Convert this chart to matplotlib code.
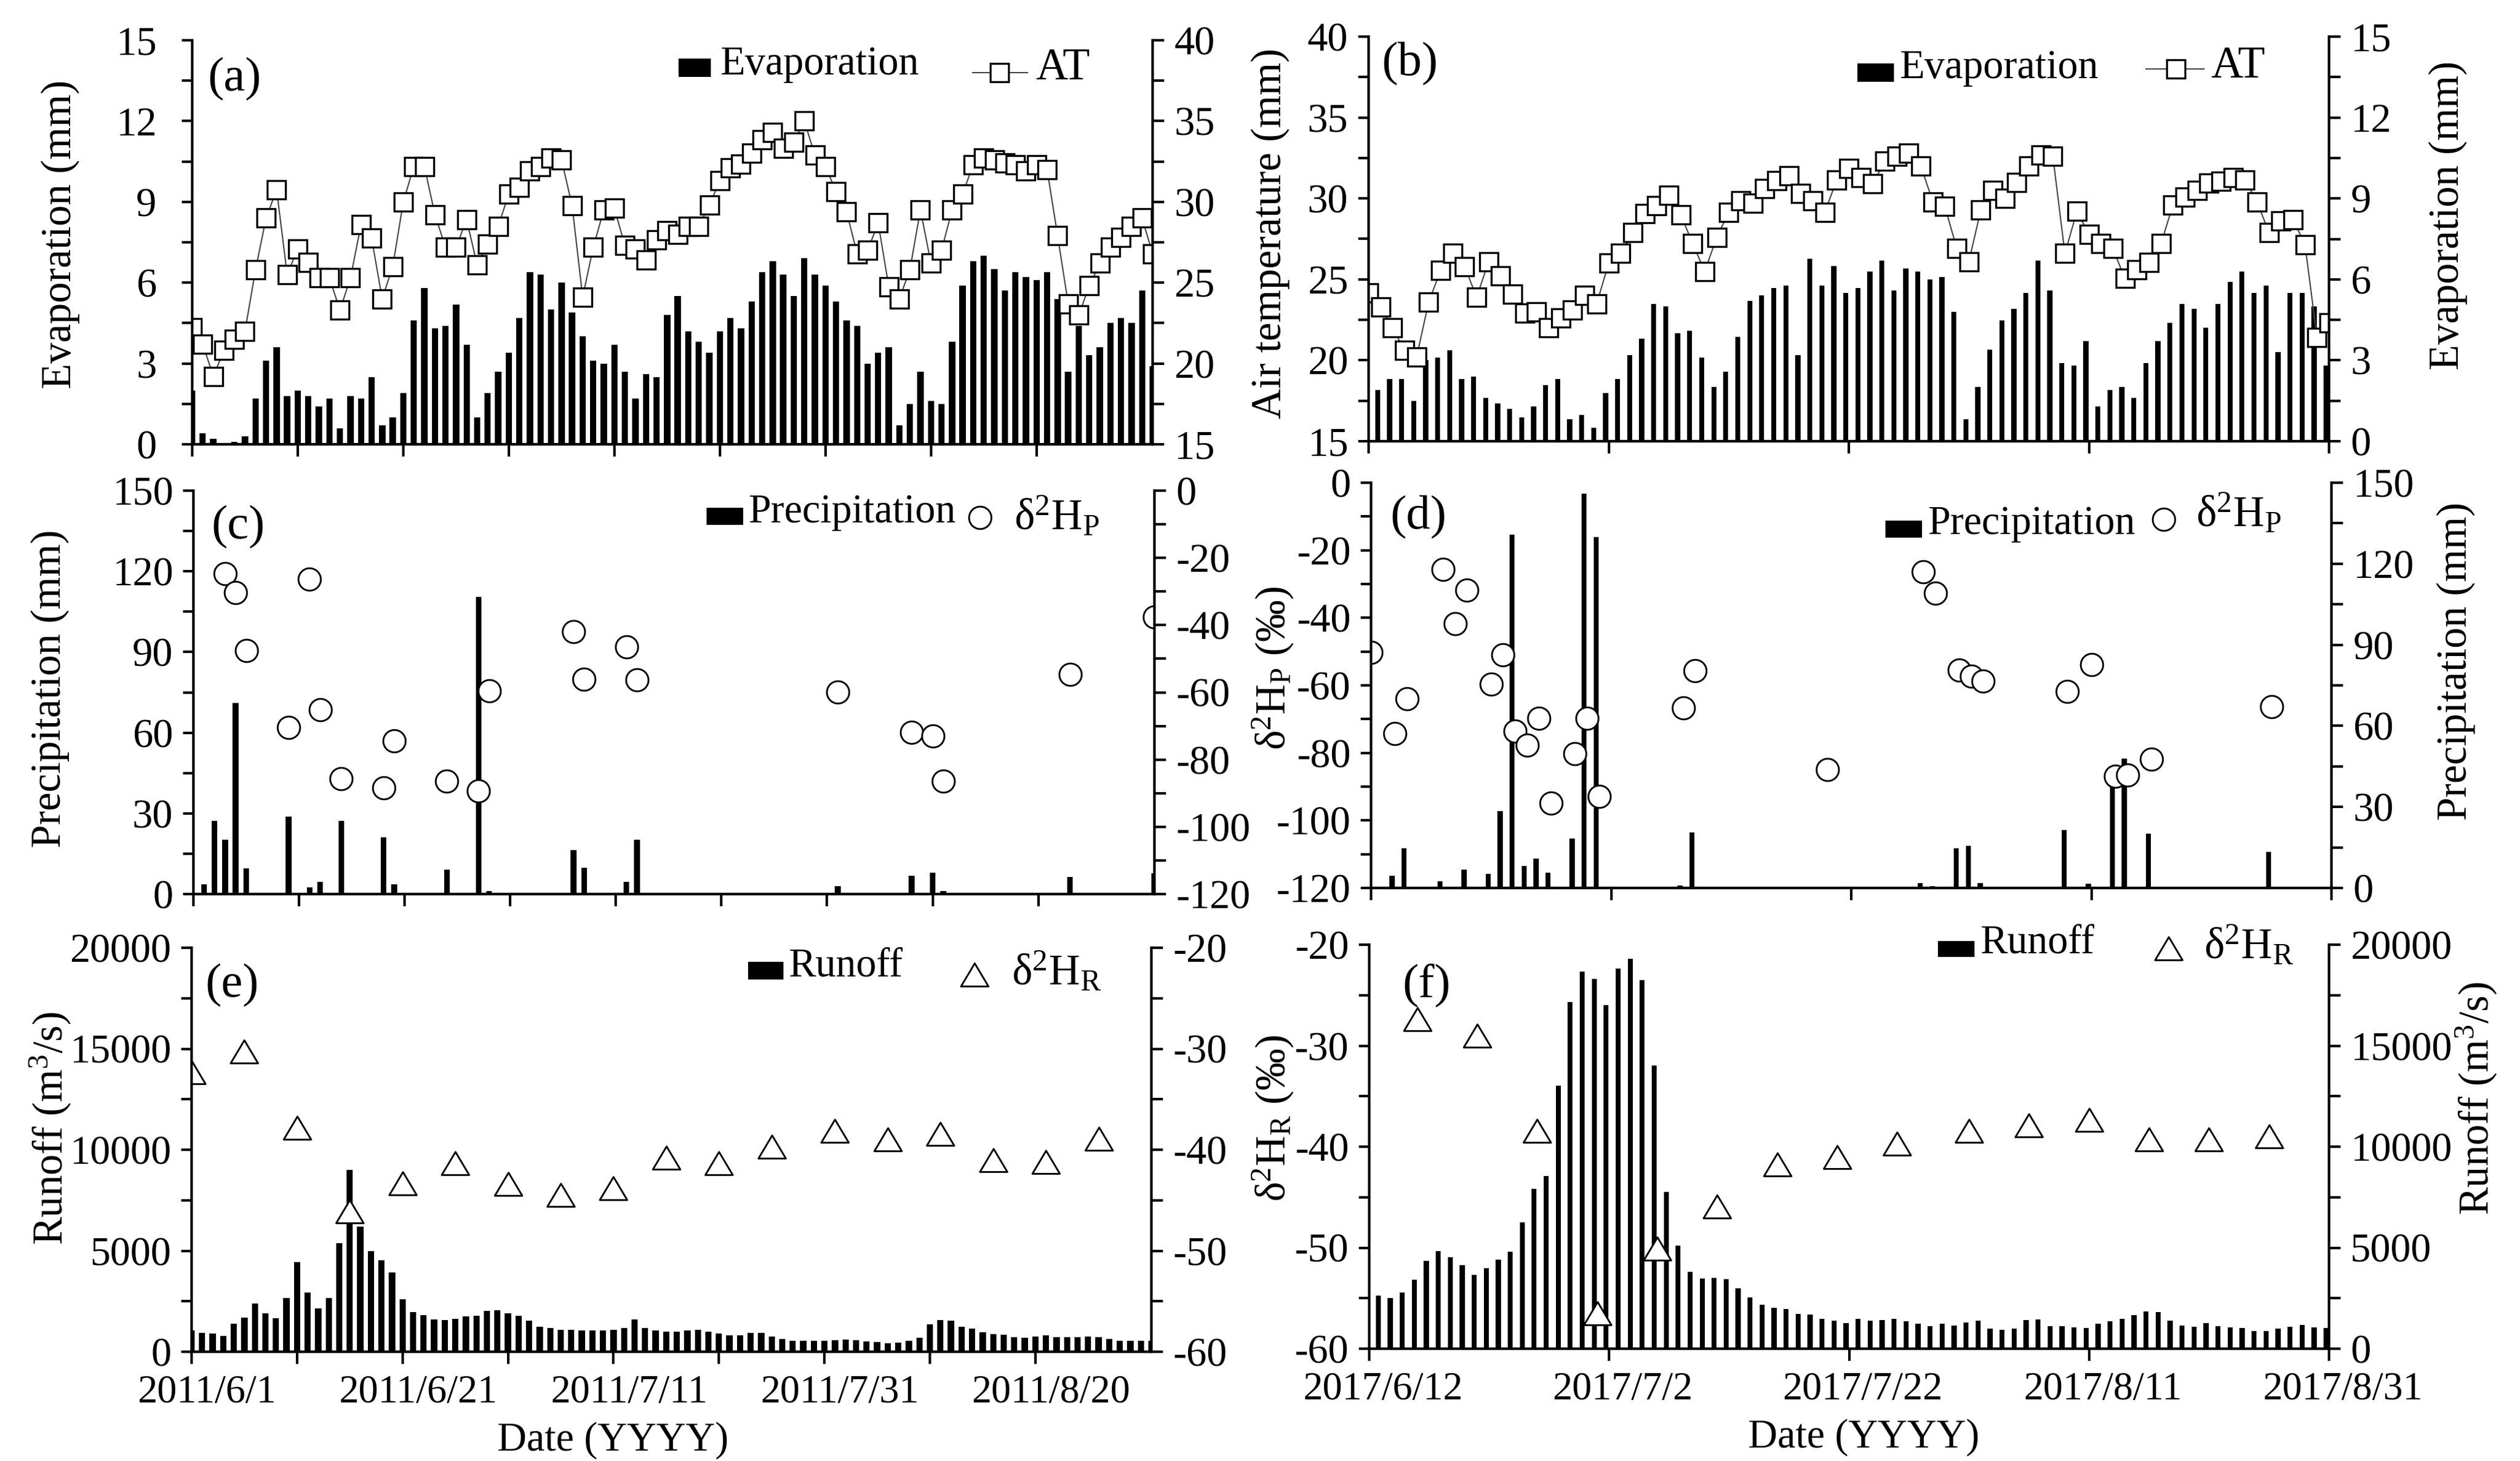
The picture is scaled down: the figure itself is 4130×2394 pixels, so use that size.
import matplotlib
matplotlib.use('Agg')
import matplotlib.pyplot as plt
import matplotlib.transforms as mtransforms
from matplotlib.lines import Line2D
from matplotlib.patches import Rectangle
from matplotlib.path import Path
from matplotlib.ticker import MultipleLocator, NullLocator
import pandas as pd

plt.rcParams['font.family'] = ['Liberation Serif', 'DejaVu Serif']
plt.rcParams['mathtext.fontset'] = 'custom'
plt.rcParams['mathtext.rm'] = 'Liberation Serif'
plt.rcParams['mathtext.it'] = 'Liberation Serif:italic'
plt.rcParams['mathtext.bf'] = 'Liberation Serif:bold'
plt.rcParams['axes.unicode_minus'] = False

W, H, DPI = 4130, 2394, 300

# ---- 2011 (left column) ----
days_2011 = pd.date_range('2011-06-01', '2011-08-31', freq='D')
evap_2011 = [2.0, 0.4, 0.2, 0.0, 0.1, 0.3, 1.7, 3.1, 3.6, 1.8,
             2.0, 1.8, 1.4, 1.7, 0.6, 1.8, 1.7, 2.5, 0.7, 1.0,
             1.9, 4.6, 5.8, 4.3, 4.4, 5.2, 3.7, 1.0, 1.9, 2.7,
             3.4, 4.7, 6.4, 6.3, 5.0, 6.0, 4.9, 4.0, 3.1, 3.0,
             3.7, 2.7, 1.7, 2.6, 2.5, 4.8, 5.5, 4.2, 3.8, 3.4,
             4.2, 4.7, 4.3, 5.3, 6.4, 6.8, 6.3, 5.5, 6.9, 6.3,
             5.9, 5.3, 4.6, 4.4, 3.0, 3.4, 3.6, 0.7, 1.5, 2.7,
             1.6, 1.5, 3.8, 5.9, 6.8, 7.0, 6.5, 5.7, 6.4, 6.2,
             6.1, 6.4, 5.4, 2.7, 4.4, 3.3, 3.6, 4.5, 4.7, 4.5,
             5.7, 2.9]
at_2011 = [22.2, 21.2, 19.2, 20.8, 21.5, 22.0, 25.8, 29.0, 30.75, 25.5,
           27.1, 26.25, 25.3, 25.3, 23.3, 25.3, 28.6, 27.75, 24.0, 26.0,
           30.0, 32.2, 32.2, 29.2, 27.2, 27.2, 28.9, 26.1, 27.4, 28.5,
           30.5, 30.9, 31.9, 32.2, 32.7, 32.6, 29.75, 24.1, 27.2, 29.5,
           29.6, 27.3, 27.1, 26.4, 27.65, 28.2, 28.0, 28.5, 28.5, 29.8,
           31.3, 32.1, 32.35, 33.0, 33.85, 34.3, 33.3, 33.7, 35.0, 32.9,
           32.2, 30.65, 29.4, 26.8, 27.0, 28.7, 24.75, 24.0, 25.8, 29.5,
           26.2, 27.0, 29.5, 30.5, 32.3, 32.7, 32.6, 32.4, 32.3, 31.9,
           32.3, 32.0, 27.9, 23.7, 23.0, 24.8, 26.2, 27.2, 27.8, 28.5,
           29.0, 26.8]
precip_2011_dates = ['2011-06-02', '2011-06-03', '2011-06-04', '2011-06-05', '2011-06-06',
                     '2011-06-10', '2011-06-12', '2011-06-13', '2011-06-15', '2011-06-19',
                     '2011-06-20', '2011-06-25', '2011-06-28', '2011-06-29', '2011-07-07',
                     '2011-07-08', '2011-07-12', '2011-07-13', '2011-08-01', '2011-08-08',
                     '2011-08-10', '2011-08-11', '2011-08-23', '2011-08-31']
precip_2011 = [3.6, 27.3, 20.1, 71.0, 9.6, 28.9, 2.6, 4.6, 27.3, 21.2, 3.6, 9.0,
               110.6, 1.1, 16.3, 9.8, 4.5, 20.1, 3.0, 6.7, 7.9, 1.2, 6.3, 7.7]
d2hp_2011_dates = ['2011-06-04', '2011-06-05', '2011-06-06', '2011-06-10', '2011-06-12',
                   '2011-06-13', '2011-06-15', '2011-06-19', '2011-06-20', '2011-06-25',
                   '2011-06-28', '2011-06-29', '2011-07-07', '2011-07-08', '2011-07-12',
                   '2011-07-13', '2011-08-01', '2011-08-08', '2011-08-10', '2011-08-11',
                   '2011-08-23', '2011-08-31']
d2hp_2011 = [-24.7, -30.3, -47.6, -70.5, -26.3, -65.2, -85.6, -88.4, -74.5, -86.5, -89.3,
             -59.6, -42.0, -56.1, -46.4, -56.3, -59.9, -71.9, -73.0, -86.5, -54.7, -37.6]
runoff_2011 = [1045, 943, 897, 795, 1397, 1704, 2385, 1897, 1670, 2658,
               4452, 2941, 2158, 2658, 5383, 8995, 6201, 4986, 4543, 3930,
               2612, 1976, 1817, 1613, 1556, 1635, 1760, 1783, 2022, 2056,
               1897, 1783, 1533, 1249, 1192, 1102, 1102, 1056, 1056, 1056,
               1079, 1192, 1601, 1192, 1056, 1011, 1011, 1056, 1090, 1011,
               897, 806, 829, 931, 931, 761, 625, 545, 556, 556,
               556, 579, 613, 579, 522, 488, 432, 466, 556, 704,
               1363, 1567, 1545, 1249, 1147, 965, 874, 840, 738, 681,
               761, 818, 738, 738, 738, 761, 727, 647, 556, 556,
               556, 556]
d2hr_2011_dates = ['2011-06-01', '2011-06-06', '2011-06-11', '2011-06-16', '2011-06-21',
                   '2011-06-26', '2011-07-01', '2011-07-06', '2011-07-11', '2011-07-16',
                   '2011-07-21', '2011-07-26', '2011-08-01', '2011-08-06', '2011-08-11',
                   '2011-08-16', '2011-08-21', '2011-08-26']
d2hr_2011 = [-32.3, -30.3, -37.8, -46.1, -43.3, -41.3, -43.4, -44.5, -43.8,
             -40.8, -41.3, -39.7, -38.1, -39.0, -38.4, -41.05, -41.2, -38.9]

# ---- 2017 (right column) ----
at_days_2017 = pd.date_range('2017-06-12', '2017-08-31', freq='D')
bar_days_2017 = pd.date_range('2017-06-13', '2017-08-31', freq='D')
at_2017 = [24.15, 23.3, 22.0, 20.6, 20.2, 23.6, 25.55, 26.6, 25.8, 23.9,
           26.1, 25.2, 24.1, 22.9, 23.0, 22.0, 22.6, 23.1, 24.0, 23.5,
           26.0, 26.6, 27.9, 29.05, 29.55, 30.2, 29.0, 27.2, 25.5, 27.6,
           29.15, 29.85, 29.7, 30.6, 31.1, 31.4, 30.3, 29.85, 29.15, 31.15,
           31.85, 31.3, 30.9, 32.3, 32.6, 32.8, 32.0, 29.8, 29.5, 26.9,
           26.1, 29.3, 30.5, 30.0, 31.0, 32.0, 32.7, 32.6, 26.6, 29.2,
           27.8, 27.2, 26.9, 25.05, 25.6, 26.05, 27.2, 29.6, 30.1, 30.5,
           30.95, 31.05, 31.3, 31.15, 29.8, 27.9, 28.6, 28.7, 27.15, 21.4,
           22.3]
evap_2017 = [1.90, 2.30, 2.30, 1.49, 3.02, 3.09, 3.38, 2.30, 2.39, 1.60,
             1.40, 1.19, 0.89, 1.30, 2.09, 2.30, 0.81, 0.98, 0.49, 1.79,
             2.30, 3.18, 3.79, 5.08, 4.99, 4.00, 4.09, 3.09, 2.01, 2.59,
             3.88, 5.20, 5.41, 5.69, 5.78, 3.18, 6.77, 5.78, 6.49, 5.49,
             5.69, 6.28, 6.69, 5.58, 6.40, 6.28, 5.99, 6.08, 4.79, 0.81,
             2.01, 3.39, 4.49, 4.90, 5.49, 6.69, 5.58, 2.89, 2.80, 3.70,
             1.30, 1.90, 2.01, 1.60, 2.89, 3.70, 4.38, 5.08, 4.90, 4.20,
             5.08, 5.90, 6.28, 5.49, 5.78, 3.30, 5.49, 5.49, 4.99, 2.80]
precip_2017_dates = ['2017-06-14', '2017-06-15', '2017-06-18', '2017-06-19', '2017-06-20',
                     '2017-06-22', '2017-06-23', '2017-06-24', '2017-06-25', '2017-06-26',
                     '2017-06-27', '2017-06-29', '2017-06-30', '2017-07-01', '2017-07-08',
                     '2017-07-09', '2017-07-20', '2017-07-28', '2017-07-29', '2017-07-31',
                     '2017-08-01', '2017-08-02', '2017-08-09', '2017-08-11', '2017-08-13',
                     '2017-08-14', '2017-08-16', '2017-08-26']
precip_2017 = [4.5, 14.6, 2.4, 0.3, 6.8, 5.1, 28.5, 130.9, 8.1, 10.9, 5.6, 18.4, 146.0,
               129.9, 1.0, 20.5, 0.4, 1.9, 0.6, 14.6, 15.5, 1.8, 21.4, 1.6, 39.8, 47.9,
               20.0, 13.3]
d2hp_2017_dates = ['2017-06-12', '2017-06-14', '2017-06-15', '2017-06-18', '2017-06-19',
                   '2017-06-20', '2017-06-22', '2017-06-23', '2017-06-24', '2017-06-25',
                   '2017-06-26', '2017-06-27', '2017-06-29', '2017-06-30', '2017-07-01',
                   '2017-07-08', '2017-07-09', '2017-07-20', '2017-07-28', '2017-07-29',
                   '2017-07-31', '2017-08-01', '2017-08-02', '2017-08-09', '2017-08-11',
                   '2017-08-13', '2017-08-14', '2017-08-16', '2017-08-26']
d2hp_2017 = [-50.2, -74.3, -63.9, -25.6, -41.75, -31.75, -59.6, -51.0, -73.6, -77.7,
             -69.7, -94.8, -80.3, -69.8, -92.9, -66.75, -55.6, -85.0, -26.4, -32.7,
             -55.5, -57.2, -58.8, -61.8, -53.8, -86.9, -86.6, -81.9, -66.4]
runoff_2017 = [2635, 2502, 2768, 3420, 4365, 4830, 4538, 4138, 3659, 3992,
               4418, 4804, 6254, 7904, 8556, 13028, 17166, 18670, 18297, 17006,
               18829, 19295, 18244, 14025, 7771, 5097, 3792, 3473, 3500, 3447,
               2981, 2542, 2169, 2023, 1956, 1717, 1690, 1477, 1384, 1280,
               1466, 1375, 1406, 1466, 1345, 1225, 1104, 1225, 1134, 1285,
               1375, 1004, 924, 984, 1406, 1436, 1104, 1104, 1044, 1014,
               1225, 1345, 1466, 1647, 1857, 1827, 1375, 1134, 1074, 1255,
               1104, 1044, 1014, 863, 863, 984, 1074, 1165, 1044, 1014]
d2hr_2017_dates = ['2017-06-16', '2017-06-21', '2017-06-26', '2017-07-01', '2017-07-06',
                   '2017-07-11', '2017-07-16', '2017-07-21', '2017-07-26', '2017-08-01',
                   '2017-08-06', '2017-08-11', '2017-08-16', '2017-08-21', '2017-08-26']
d2hr_2017 = [-27.35, -29.0, -38.4, -56.5, -50.1, -45.9, -41.75, -41.0, -39.7, -38.4,
             -37.9, -37.35, -39.3, -39.3, -39.0]

xticks_2011 = ['2011-06-01', '2011-06-11', '2011-06-21', '2011-07-01', '2011-07-11',
               '2011-07-21', '2011-07-31', '2011-08-10', '2011-08-20']
xticklabels_2011 = ['2011/6/1', '', '2011/6/21', '', '2011/7/11', '', '2011/7/31', '', '2011/8/20']
xticks_2017 = ['2017-06-12', '2017-07-02', '2017-07-22', '2017-08-11', '2017-08-31']
xticklabels_2017 = ['2017/6/12', '2017/7/2', '2017/7/22', '2017/8/11', '2017/8/31']

D2HP = r'$\mathrm{\delta^{2}H_{P}}$'
D2HR = r'$\mathrm{\delta^{2}H_{R}}$'
TRI = Path([(-0.5, -0.42), (0.5, -0.42), (0.0, 0.42), (-0.5, -0.42)], closed=True)
SHIFT = pd.Timedelta(hours=6)

fig = plt.figure(figsize=(W / DPI, H / DPI), dpi=DPI)


def px_box(left, top, right, bottom):
    return [left / W, 1 - bottom / H, (right - left) / W, (bottom - top) / H]


def setup(box, xlim, ticks, labels, show, left_pad=4, label_dx=25, xpad=4.2):
    ax = fig.add_axes(px_box(*box))
    tw = ax.twinx()
    for a in (ax, tw):
        a.spines['top'].set_visible(False)
        for s in ('left', 'right', 'bottom'):
            a.spines[s].set_linewidth(1.0)
    ax.set_xlim(pd.Timestamp(xlim[0]), pd.Timestamp(xlim[1]))
    ax.set_xticks(pd.to_datetime(ticks))
    ax.set_xticklabels(labels if show else [''] * len(ticks))
    ax.xaxis.set_minor_locator(NullLocator())
    ax.tick_params(axis='x', direction='out', length=4.8, width=1.0, labelsize=15.5, pad=xpad)
    ax.tick_params(axis='y', which='both', direction='out', length=4, width=1.0,
                   labelsize=16, pad=left_pad)
    tw.tick_params(axis='y', which='both', direction='out', length=4.5, width=1.0,
                   labelsize=16, pad=4)
    off = mtransforms.ScaledTranslation(label_dx / DPI, 0, fig.dpi_scale_trans)
    for lab in ax.get_xticklabels():
        lab.set_transform(lab.get_transform() + off)
    return ax, tw


def yscale(a, lo, hi, major):
    a.set_ylim(lo, hi)
    a.yaxis.set_major_locator(MultipleLocator(major))
    a.yaxis.set_minor_locator(MultipleLocator(major / 2))


def ylab(a, text, x, y):
    a.set_ylabel(text, fontsize=16.5, va='center', ha='center')
    a.yaxis.set_label_coords(x, y)


def panel_letter(x, y, s):
    fig.text(x / W, 1 - y / H, s, fontsize=19, ha='left', va='center')


def legend_box(x0, y0, x1, y1):
    fig.add_artist(Rectangle((x0 / W, 1 - y1 / H), (x1 - x0) / W, (y1 - y0) / H,
                             transform=fig.transFigure, facecolor='black', edgecolor='none'))


def legend_text(x, y, s, size=16):
    fig.text(x / W, 1 - y / H, s, fontsize=size, ha='left', va='baseline')


def legend_marker(x, y, marker, ms, mew, line=None):
    if line is not None:
        fig.add_artist(Line2D([line[0] / W, line[1] / W], [1 - y / H, 1 - y / H],
                              color='#444444', lw=0.5, transform=fig.transFigure))
    fig.add_artist(Line2D([x / W], [1 - y / H], marker=marker, ms=ms, mew=mew, mfc='white',
                          mec='black', ls='none', transform=fig.transFigure))


def main():
    lim11 = ('2011-06-01', '2011-08-31')
    lim17 = ('2017-06-12', '2017-08-31')

    # (a) evaporation / air temperature 2011
    ax, tw = setup((315, 66, 1889, 728), lim11, xticks_2011, xticklabels_2011, False, left_pad=10)
    ax.bar(days_2011, evap_2011, width=0.6, color='black')
    tw.plot(days_2011, at_2011, color='#444444', lw=0.5, marker='s', ms=7.4, mew=0.8,
            mfc='white', mec='black')
    yscale(ax, 0, 15, 3)
    yscale(tw, 15, 40, 5)
    ylab(ax, 'Evaporation (mm)', -0.137, 0.52)
    panel_letter(341, 130, '(a)')
    legend_box(1112, 96, 1165, 126)
    legend_text(1180, 122, 'Evaporation')
    legend_marker(1638, 119, 's', 7.4, 0.8, line=(1594, 1684))
    legend_text(1697, 130, 'AT', 17.5)

    # (b) air temperature / evaporation 2017
    ax, tw = setup((2243, 60, 3817, 723), lim17, xticks_2017, xticklabels_2017, False)
    tw.bar(bar_days_2017 - SHIFT, evap_2017, width=0.42, color='black')
    ax.plot(at_days_2017, at_2017, color='#444444', lw=0.5, marker='s', ms=7.4, mew=0.8,
            mfc='white', mec='black')
    ax.set_zorder(tw.get_zorder() + 1)
    ax.patch.set_visible(False)
    yscale(ax, 15, 40, 5)
    yscale(tw, 0, 15, 3)
    ylab(ax, 'Air temperature (mm)', -0.102, 0.514)
    ylab(tw, 'Evaporation (mm)', 1.124, 0.558)
    panel_letter(2265, 105, '(b)')
    legend_box(3044, 104, 3104, 134)
    legend_text(3113, 128, 'Evaporation')
    legend_marker(3566, 113, 's', 7.4, 0.8, line=(3517, 3612))
    legend_text(3623, 127, 'AT', 17.5)

    # (c) precipitation / d2H_P 2011
    ax, tw = setup((317, 804, 1892, 1465), lim11, xticks_2011, xticklabels_2011, False)
    ax.bar(pd.to_datetime(precip_2011_dates), precip_2011, width=0.55, color='black')
    tw.plot(pd.to_datetime(d2hp_2011_dates), d2hp_2011, ls='none', marker='o', ms=8.8,
            mew=0.7, mfc='white', mec='black')
    yscale(ax, 0, 150, 30)
    yscale(tw, -120, 0, 20)
    ylab(ax, 'Precipitation (mm)', -0.149, 0.51)
    panel_letter(346, 864, '(c)')
    legend_box(1158, 832, 1218, 860)
    legend_text(1226, 856, 'Precipitation')
    legend_marker(1606, 848, 'o', 8.8, 0.7)
    legend_text(1662, 868, D2HP, 17)

    # (d) d2H_P / precipitation 2017
    ax, tw = setup((2247, 791, 3821, 1455), lim17, xticks_2017, xticklabels_2017, False)
    tw.bar(pd.to_datetime(precip_2017_dates) - SHIFT, precip_2017, width=0.42, color='black')
    ax.plot(pd.to_datetime(d2hp_2017_dates), d2hp_2017, ls='none', marker='o', ms=8.8,
            mew=0.7, mfc='white', mec='black')
    ax.set_zorder(tw.get_zorder() + 1)
    ax.patch.set_visible(False)
    yscale(ax, -120, 0, 20)
    yscale(tw, 0, 150, 30)
    ylab(ax, D2HP + ' (‰)', -0.102, 0.542)
    ylab(tw, 'Precipitation (mm)', 1.13, 0.559)
    panel_letter(2278, 848, '(d)')
    legend_box(3090, 853, 3150, 881)
    legend_text(3159, 875, 'Precipitation')
    legend_marker(3546, 851, 'o', 8.8, 0.7)
    legend_text(3599, 863, D2HP, 17)

    # (e) runoff / d2H_R 2011
    ax, tw = setup((314, 1553, 1887, 2215), lim11, xticks_2011, xticklabels_2011, True)
    ax.bar(days_2011, runoff_2011, width=0.6, color='black')
    tw.plot(pd.to_datetime(d2hr_2011_dates), d2hr_2011, ls='none', marker=TRI, ms=10.8,
            mew=0.7, mfc='white', mec='black')
    yscale(ax, 0, 20000, 5000)
    yscale(tw, -60, -20, 10)
    ylab(ax, 'Runoff (m$^{3}$/s)', -0.147, 0.553)
    ax.set_xlabel('Date (YYYY)', fontsize=16, va='center')
    ax.xaxis.set_label_coords(0.4387, -0.219)
    panel_letter(337, 1615, '(e)')
    legend_box(1226, 1576, 1284, 1605)
    legend_text(1292, 1600, 'Runoff')
    legend_marker(1597, 1597, TRI, 10.8, 0.7)
    legend_text(1658, 1614, D2HR, 17)

    # (f) d2H_R / runoff 2017
    ax, tw = setup((2244, 1548, 3817, 2210), lim17, xticks_2017, xticklabels_2017, True,
                   label_dx=22)
    tw.bar(bar_days_2017 - SHIFT, runoff_2017, width=0.42, color='black')
    ax.plot(pd.to_datetime(d2hr_2017_dates), d2hr_2017, ls='none', marker=TRI, ms=10.8,
            mew=0.7, mfc='white', mec='black')
    ax.set_zorder(tw.get_zorder() + 1)
    ax.patch.set_visible(False)
    yscale(ax, -60, -20, 10)
    yscale(tw, 0, 20000, 5000)
    ylab(ax, D2HR + ' (‰)', -0.10, 0.57)
    ylab(tw, 'Runoff (m$^{3}$/s)', 1.154, 0.62)
    ax.set_xlabel('Date (YYYY)', fontsize=16, va='center')
    ax.xaxis.set_label_coords(0.515, -0.219)
    panel_letter(2298, 1614, '(f)')
    legend_box(3176, 1542, 3236, 1568)
    legend_text(3245, 1562, 'Runoff')
    legend_marker(3554, 1554, TRI, 10.8, 0.7)
    legend_text(3612, 1571, D2HR, 17)

    fig.savefig('out.png', dpi=DPI)


if __name__ == '__main__':
    main()
